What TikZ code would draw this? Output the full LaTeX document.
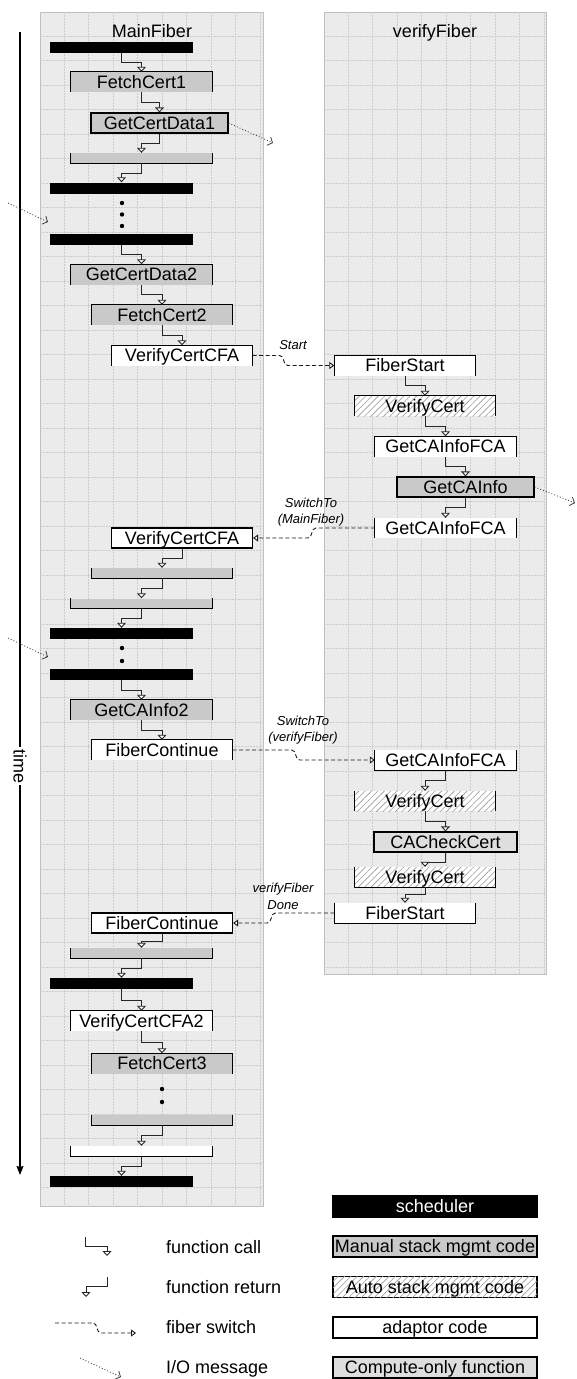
\documentclass[tikz,border=0pt]{standalone}
\usepackage{fontspec}
\setmainfont{Liberation Sans}
\usepackage{tikz}
\usetikzlibrary{arrows.meta,calc,patterns.meta}

\newcommand{\callframe}[1]{\draw[frameline] (#1.south west) |- (#1.north east) -- (#1.south east);}
\newcommand{\retframe}[1]{\draw[frameline] (#1.north west) |- (#1.south east) -- (#1.north east);}
\newcommand{\sideframe}[1]{\draw[frameline] (#1.north west) -- (#1.south west) (#1.north east) -- (#1.south east);}

\begin{document}
\begin{tikzpicture}[
    x=1pt, y=-1pt,
    font=\fontsize{18}{20}\selectfont,
    panel/.style={draw=black!25, fill=black!8, line width=0.8pt, inner sep=0pt},
    gridline/.style={draw=black!20, line width=0.5pt, densely dotted},
    title/.style={inner sep=0pt, text height=12.9pt, text depth=0pt},
    fn/.style={inner sep=0pt, minimum width=141pt, minimum height=20pt, text height=12.9pt, text depth=0pt},
    closed/.style={fn, draw=black, line width=1.2pt},
    manual/.style={fill=black!21},
    compute/.style={fill=black!13},
    adaptor/.style={fill=white},
    autostack/.style={fill=white, postaction={pattern={Lines[angle=45,distance=4.5pt,line width=0.6pt]}, pattern color=black!40}},
    sched/.style={fill=black, inner sep=0pt, minimum width=143pt, minimum height=11pt},
    stub/.style={inner sep=0pt, minimum width=141pt, minimum height=10pt},
    frameline/.style={draw=black, line width=1.2pt},
    call/.style={-{Triangle[length=5pt,width=9pt,fill=white]}, draw=black!85, line width=0.9pt},
    switch/.style={-{Triangle[length=5pt,width=7pt,fill=white]}, draw=black!90, line width=0.9pt, dash pattern=on 4pt off 2.5pt},
    iomsg/.style={-{Straight Barb[length=4pt,width=9pt]}, draw=black!75, line width=0.8pt, dash pattern=on 1pt off 2pt},
    timeline/.style={-{Stealth[length=9pt,width=7pt,inset=1pt]}, draw=black, line width=1.2pt},
    swlabel/.style={font=\fontsize{13}{16.5}\selectfont\itshape, align=center, inner sep=0pt},
    legbox/.style={draw=black, line width=1.2pt, inner sep=0pt, minimum width=204pt, minimum height=21pt, text height=12.9pt, text depth=0pt},
    legtext/.style={anchor=west, inner sep=0pt, text height=12.9pt, text depth=0pt}
]
\useasboundingbox (0,0) rectangle (576,1379);

% fiber panels
\node[panel, minimum width=223pt, minimum height=1194pt] (mainpanel) at (151.5,609) {};
\node[panel, minimum width=222pt, minimum height=962pt] (verifypanel) at (435,493) {};
\foreach \k in {1,...,9} {
    \draw[gridline] ($(mainpanel.north west)+(24.5*\k,0)$) -- ($(mainpanel.south west)+(24.5*\k,0)$);
    \draw[gridline] ($(verifypanel.north west)+(24.5*\k,0)$) -- ($(verifypanel.south west)+(24.5*\k,0)$);
}
\foreach \k in {1,...,48}
    \draw[gridline] ($(mainpanel.north west)+(0,24.5*\k)$) -- ($(mainpanel.north east)+(0,24.5*\k)$);
\foreach \k in {1,...,39}
    \draw[gridline] ($(verifypanel.north west)+(0,24.5*\k)$) -- ($(verifypanel.north east)+(0,24.5*\k)$);
\node[title] (maintitle) at (152,31) {MainFiber};
\node[title] (verifytitle) at (435,31) {verifyFiber};

% time axis
\coordinate (timetop) at (20,32);
\coordinate (timeend) at (20,1175);
\draw[timeline] (timetop) -- (timeend);
\node[fill=white, rotate=-90, inner sep=2pt] (timelabel) at (20,766) {time};

% MainFiber
\node[sched] (bar1) at (121.5,47) {};
\node[fn, manual] (fetch1) at (141.5,82) {FetchCert1};
\node[closed, manual, minimum width=137pt] (getdata1) at (159.5,123) {GetCertData1};
\node[stub, manual] (ret1) at (141.5,158) {};
\node[sched] (bar2) at (121.5,188) {};
\node[sched] (bar3) at (121.5,239) {};
\node[fn, manual] (getdata2) at (141.5,274.5) {GetCertData2};
\node[fn, manual] (fetch2) at (162,315) {FetchCert2};
\node[fn, adaptor] (cfa1) at (182,355.5) {VerifyCertCFA};
\node[closed, adaptor] (cfa2) at (182,538) {VerifyCertCFA};
\node[stub, manual] (ret2) at (162,573) {};
\node[stub, manual] (ret3) at (141.5,603.5) {};
\node[sched] (bar4) at (121.5,633.5) {};
\node[sched] (bar5) at (121.5,674.5) {};
\node[fn, manual] (cainfo2) at (141.5,710) {GetCAInfo2};
\node[fn, adaptor] (cont1) at (162,750) {FiberContinue};
\node[closed, adaptor] (cont2) at (162,923) {FiberContinue};
\node[stub, manual] (ret4) at (141.5,953) {};
\node[sched] (bar6) at (121.5,983.5) {};
\node[fn, adaptor] (cfa3) at (141.5,1021) {VerifyCertCFA2};
\node[fn, manual] (fetch3) at (162,1063.5) {FetchCert3};
\node[stub, manual] (ret5) at (162,1120) {};
\node[stub, adaptor] (ret6) at (141.5,1151) {};
\node[sched] (bar7) at (121.5,1181.5) {};

\foreach \y in {203,214.5,226} \fill (122,\y) circle (2.2pt);
\foreach \y in {648,661} \fill (122,\y) circle (2.2pt);
\foreach \y in {1089,1102} \fill (162,\y) circle (2.2pt);

% verifyFiber
\node[fn, adaptor] (start1) at (405,365.5) {FiberStart};
\node[fn, autostack] (verify1) at (425,406) {VerifyCert};
\node[fn, adaptor] (fca1) at (445.5,446.5) {GetCAInfoFCA};
\node[closed, manual, minimum width=137pt] (cainfo) at (465.5,487) {GetCAInfo};
\node[fn, adaptor] (fca2) at (445.5,528) {GetCAInfoFCA};
\node[fn, adaptor] (fca3) at (445.5,760) {GetCAInfoFCA};
\node[fn, autostack] (verify2) at (425,801) {VerifyCert};
\node[closed, compute, minimum width=143pt] (cacheck) at (445.5,842) {CACheckCert};
\node[fn, autostack] (verify3) at (425,877) {VerifyCert};
\node[fn, adaptor] (start2) at (405,913) {FiberStart};

% open frames
\callframe{fetch1} \callframe{getdata2} \callframe{fetch2} \callframe{cfa1}
\callframe{cainfo2} \callframe{cont1} \callframe{cfa3} \callframe{fetch3}
\callframe{start1} \callframe{verify1} \callframe{fca1}
\retframe{ret1} \retframe{ret2} \retframe{ret3} \retframe{ret4} \retframe{ret5} \retframe{ret6}
\retframe{fca3} \retframe{verify3} \retframe{start2}
\sideframe{fca2} \sideframe{verify2}

% calls and returns
\draw[call] (bar1.south) -- ++(0,10) -| (fetch1.north);
\draw[call] (fetch1.south) -- ++(0,10) -| (getdata1.north);
\draw[call] (getdata1.south) -- ++(0,10) -| (ret1.north);
\draw[call] (ret1.south) -- ++(0,10) -| (bar2.north);
\draw[call] (bar3.south) -- ++(0,10) -| (getdata2.north);
\draw[call] (getdata2.south) -- ++(0,10) -| (fetch2.north);
\draw[call] (fetch2.south) -- ++(0,10) -| (cfa1.north);
\draw[call] (start1.south) -- ++(0,10) -| (verify1.north);
\draw[call] (verify1.south) -- ++(0,10) -| (fca1.north);
\draw[call] (fca1.south) -- ++(0,10) -| (cainfo.north);
\draw[call] (cainfo.south) -- ++(0,10) -| (fca2.north);
\draw[call] (cfa2.south) -- ++(0,10) -| (ret2.north);
\draw[call] (ret2.south) -- ++(0,10) -| (ret3.north);
\draw[call] (ret3.south) -- ++(0,10) -| (bar4.north);
\draw[call] (bar5.south) -- ++(0,10) -| (cainfo2.north);
\draw[call] (cainfo2.south) -- ++(0,10) -| (cont1.north);
\draw[call] (fca3.south) -- ++(0,10) -| (verify2.north);
\draw[call] (verify2.south) -- ++(0,10) -| (cacheck.north);
\draw[call] (cacheck.south) -- ++(0,10) -| (verify3.north);
\draw[call] (verify3.south) -- ++(0,7) -| (start2.north);
\draw[call] (cont2.south) -- ++(0,8) -| (ret4.north);
\draw[call] (ret4.south) -- ++(0,10) -| (bar6.north);
\draw[call] (bar6.south) -- ++(0,11) -| (cfa3.north);
\draw[call] (cfa3.south) -- ++(0,11) -| (fetch3.north);
\draw[call] (ret5.south) -- ++(0,10) -| (ret6.north);
\draw[call] (ret6.south) -- ++(0,10) -| (bar7.north);

% fiber switches
\draw[switch] (cfa1.east) -- ++(27,0) to[out=0,in=180] ++(8,10) -- (start1.west);
\draw[switch] (fca2.west) -- ++(-59,0) to[out=180,in=0] ++(-8,10) -- (cfa2.east);
\draw[switch] (cont1.east) -- ++(59,0) to[out=0,in=180] ++(8,10) -- (fca3.west);
\draw[switch] (start2.west) -- ++(-59,0) to[out=180,in=0] ++(-8,10) -- (cont2.east);
\node[swlabel] (lblstart) at (293,345) {Start};
\node[swlabel] (lblmain) at (311,512) {SwitchTo\\(MainFiber)};
\node[swlabel] (lblverify) at (303,730) {SwitchTo\\(verifyFiber)};
\node[swlabel] (lbldone) at (283,896.5) {verifyFiber\\Done};

% I/O messages
\coordinate (ioout1) at (273,143);
\coordinate (ioout2) at (575,503);
\coordinate (ioin1) at (8,203);
\coordinate (ioin1end) at (48,222);
\coordinate (ioin2) at (8,638);
\coordinate (ioin2end) at (48,657);
\draw[iomsg] (getdata1.east) -- (ioout1);
\draw[iomsg] (cainfo.east) -- (ioout2);
\draw[iomsg] (ioin1) -- (ioin1end);
\draw[iomsg] (ioin2) -- (ioin2end);

% legend
\node[legbox, fill=black, text=white] (legsched) at (435,1206.5) {scheduler};
\node[legbox, manual] (legmanual) at (435,1246.5) {Manual stack mgmt code};
\node[legbox, autostack] (legauto) at (435,1287) {Auto stack mgmt code};
\node[legbox, adaptor] (legadaptor) at (435,1327.5) {adaptor code};
\node[legbox, compute] (legcompute) at (435,1367.5) {Compute-only function};

\coordinate (lcall) at (85,1237);
\coordinate (lcallend) at (107,1256);
\coordinate (lret) at (107,1277);
\coordinate (lretend) at (86,1297);
\coordinate (lsw) at (55,1323);
\coordinate (lswend) at (136,1333);
\coordinate (lio) at (80,1358);
\coordinate (lioend) at (121,1377);
\draw[call] (lcall) -- ++(0,9) -| (lcallend);
\draw[call] (lret) -- ++(0,9) -| (lretend);
\draw[switch] (lsw) -- ++(38,0) to[out=0,in=180] ++(8,10) -- (lswend);
\draw[iomsg] (lio) -- (lioend);
\node[legtext] (txtcall) at (166,1247) {function call};
\node[legtext] (txtret) at (166,1287) {function return};
\node[legtext] (txtsw) at (166,1327) {fiber switch};
\node[legtext] (txtio) at (166,1367) {I/O message};

\end{tikzpicture}
\end{document}
